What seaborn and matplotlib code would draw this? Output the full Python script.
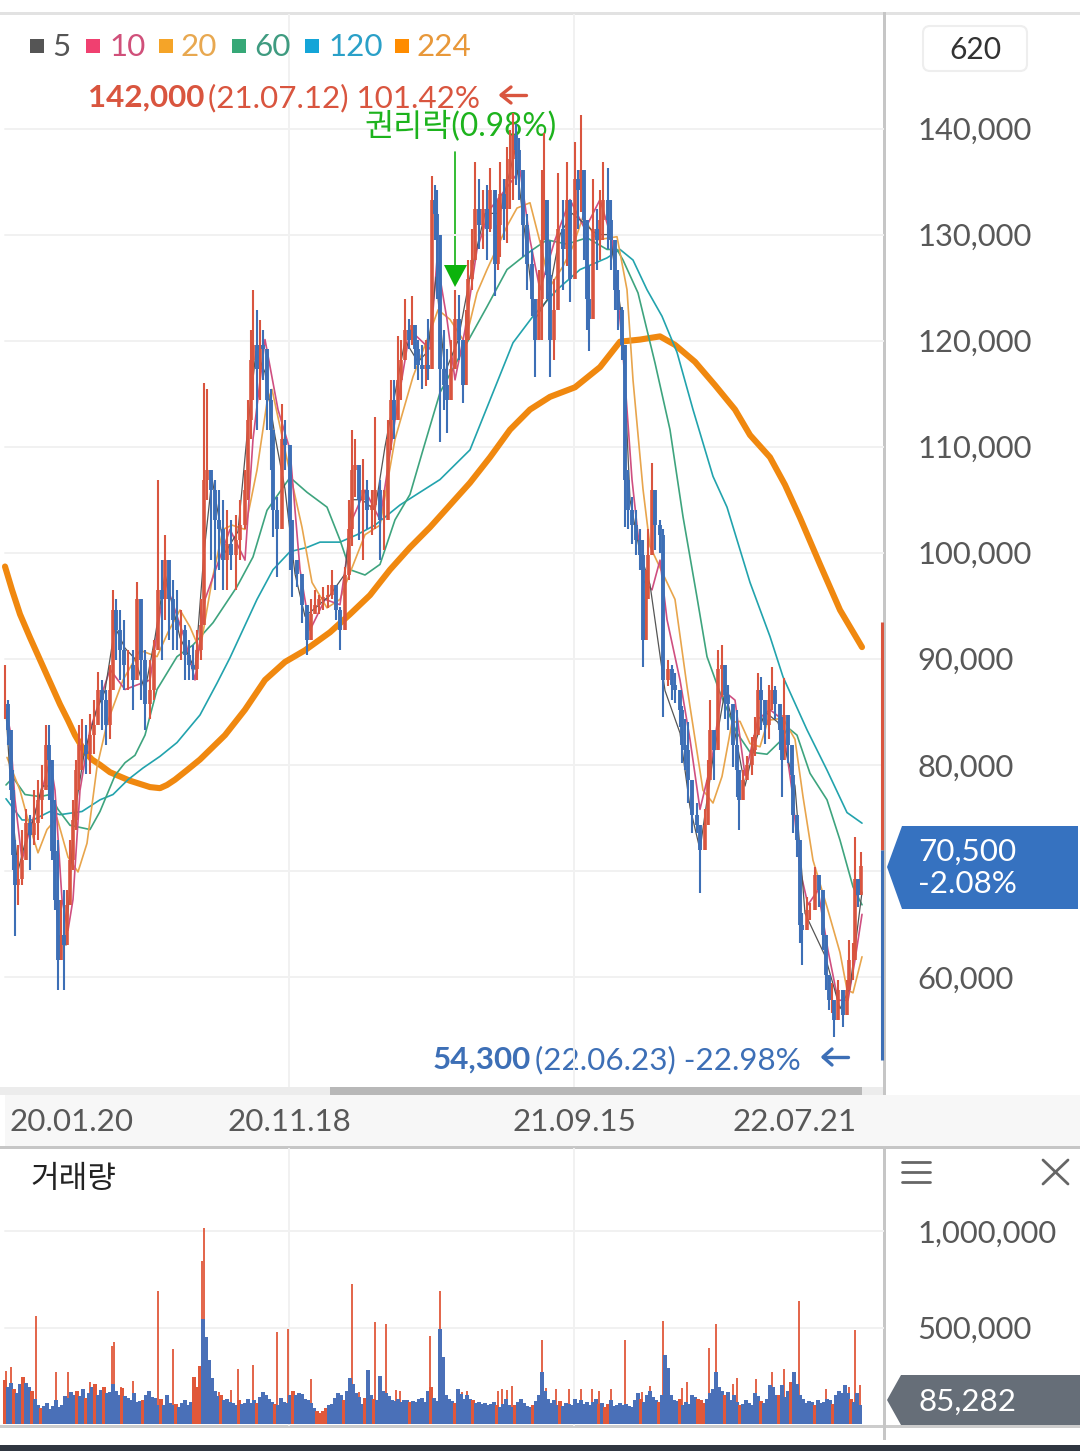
import numpy as np
import pandas as pd
import seaborn as sns
import matplotlib.pyplot as plt
from matplotlib.patches import Polygon, Rectangle, FancyBboxPatch

sns.set_theme(style='white')
plt.rcParams['font.family'] = ['Lato', 'Noto Sans CJK KR', 'DejaVu Sans']

# time axis position of each candle / thousand won
candle_t = [5,8,11,13,15,18,22,26,30,34,38,42,46,49,52,55,58,61,64,67,70,73,76,79,82,86,90,94,98,102,106,110,113,116,120,124,128,133,137,141,145,150,154,158,162,165,169,173,177,181,185,189,193,197,201,204,207,211,215,219,223,227,231,236,240,245,248,251,253,257,260,263,267,271,273,277,282,285,290,292,297,302,307,311,315,319,323,328,332,336,340,345,349,352,355,359,363,367,372,375,380,384,388,391,394,398,401,405,409,412,415,418,422,426,428,432,435,437,440,444,447,451,455,459,463,466,468,472,475,479,483,487,490,495,498,500,504,507,510,513,516,519,523,527,532,535,539,542,544,547,550,554,558,563,567,570,575,578,581,584,587,589,593,597,600,603,608,611,615,618,622,625,628,632,636,640,643,646,648,652,655,660,663,668,672,675,680,682,685,688,692,697,700,705,708,710,714,718,722,725,728,733,737,739,743,747,752,755,758,761,765,769,772,775,780,782,784,788,792,793,797,800,802,807,810,815,819,823,826,829,832,834,838,843,847,849,853,855,858,861]
candle_high = [89.4,86.1,83.3,79.5,72.9,72.4,73.9,75.8,75.3,77.6,78.6,80,83.8,83.8,80.5,76.7,72.9,67.3,68.2,68.2,72.9,76.7,80.5,83.8,84.3,83.8,84.8,86.1,88.8,88,87.1,89.4,96.5,95.6,94.6,93.7,90.8,90.8,97.2,95.6,90.8,89.9,91.8,106.9,99.3,101.7,98.9,97.4,96.5,94.6,93.2,91.8,91.3,92.7,95.6,116,115.4,107.8,106.9,105.9,105,104,103.1,103.6,105,107.8,114.4,121,124.8,122.9,121.9,121,118.2,115.4,110,105.3,114,112.5,105.3,103.1,99.3,97.4,93.7,95.6,96.5,96,96.8,97,98.4,96.5,94.9,98.7,105,111.6,110.7,107.8,108.8,106.9,105.9,112.8,106.9,105.9,112.5,116.3,116.3,120.4,120.1,123.9,122,124.2,121.5,120.1,119.6,120.1,122,135.5,134.7,134.2,128.3,121,119.2,120.1,124.8,124.3,119.2,122.9,127.6,130.5,136.8,135.2,134.2,134.7,136.3,130.7,133.3,136.8,135.2,138.3,139.9,141.5,140.4,139.1,134.9,131.9,128.6,123.9,126.7,136.1,139.6,131.9,129.4,125.8,135.8,133.3,136.8,131.4,138.7,136.1,141.3,134.2,129.2,127,135.2,132.4,134.2,136.8,136.3,133.3,129.2,126.7,123.2,119.4,107.8,105.3,104,102.2,101.2,98.4,102.2,108.5,104.3,103.1,102.2,89.9,89.4,88.7,86.8,85.5,84.3,84,78.6,76.4,73.9,75.8,80.5,86.1,82.6,90.8,91.3,88.7,87.5,85.2,85.2,79.5,79.5,80.8,82.6,84.5,88.7,88.3,85.2,87.5,89.2,87.4,84.5,84.5,88.2,84,80.8,78.3,75.1,70.1,66,67.5,67,70.4,69.2,65.1,62.3,59.4,59.4,56.9,59.7,58.1,59.7,63.5,63.2,73.2,69.2,71.8]
candle_low = [84.3,81.9,76.7,70.1,63.9,66.8,68.7,71,70.1,72.4,72.9,74.9,77.6,76.7,71,66.3,58.8,62.5,58.8,63,66.8,70.1,73.9,77.6,79.5,79.1,79.1,81,84.3,83.3,81.9,82.4,87.1,89.9,88,87.1,87.1,85.2,89.9,86.1,83.3,84.3,86.1,91.8,89.9,93.7,91.8,90.8,90.8,89.9,88,88,88,88,89.9,99.3,105,99.3,96.5,98.4,96.5,96.5,98.4,96.5,99.3,102.2,105,110.7,114.4,111.6,114.4,116.3,111.6,107.8,101.5,97.7,106.9,107.8,98.4,95.8,96.8,93.4,90.4,91.8,94.4,94.2,94.6,94.8,95.6,93.7,90.8,94.4,97.4,100.6,105.3,101.2,99.3,102.2,101.7,102.2,99.3,100.3,104.1,109.7,110.7,114.4,114.4,118.2,119.2,119.6,117.3,116.3,115.4,115.7,116.3,117.3,129.5,123.9,110.4,113.5,111.3,114.4,117.5,118.2,114.1,115.8,122.3,124.8,127.6,128.6,128.6,127.6,130.2,124.2,126.7,127.9,129.5,129.2,132.4,133.3,134.7,133.3,127.9,124.8,122.3,116.6,120.1,120.1,131.7,123.9,116.6,118.2,123.2,124.8,127,123.6,131.7,130.5,132.1,127.6,121,119,125.5,126.7,127.6,129.5,128.6,126.7,122.9,121,118.2,102.4,102.2,100.8,99.8,98.4,89.2,91.8,97.2,102.2,100.3,100,84.5,87.4,86.1,85.8,83.6,80.2,79.5,76.4,73.6,73.6,67.9,72.3,74.8,80.2,78.6,84.5,86.4,84.3,83.3,79.8,77,73.9,77.6,78.9,79,80.8,83.3,83.3,82,82.4,85.2,84.3,81.4,77,82.7,80.2,77.9,73.6,71.3,63.2,61.1,64.7,65.4,67.9,66.6,62.5,58.8,56.9,56.6,54.3,57.2,55.3,56.9,59.1,59.7,65.6,66.6,69.2]
candle_close = [85.7,83.3,77.6,71.5,68.7,69.2,71,74.5,73.4,74.5,76.7,77.6,81.9,80.5,71.9,67.3,61.6,64,63,66.8,71,74.8,79.5,81.9,81.9,81,82.8,83.8,87.1,86.1,83.8,87.1,94.6,92.7,90.8,89.4,89.4,88,95.6,89.9,85.7,87.1,90.8,96.5,95.6,99.3,95.6,93.7,92.7,92.7,90.4,89.4,89,90.8,93.2,106.9,107.8,105.9,103.1,102.2,99.3,100.8,99.8,101.2,102.6,105.9,112.5,118.2,119.6,117.3,119.6,119.2,114.4,111.6,104,102.2,110.7,110.2,103.1,99.3,98,95.1,91.8,94.2,95.1,95.6,95.8,96,97,94.6,92.7,97.9,102.2,107.8,108.3,105,105.9,104,104.5,105.9,103.1,103.1,110.7,114.4,112.5,116.3,118.2,121,120.1,121.5,119.2,117.7,117.3,117.7,117.3,133.3,131.9,130,117.3,115.8,114.4,117.3,122,120.1,115.8,120.1,125.8,127.6,132.4,130.9,132.4,130.5,134.2,127.2,130.9,133.8,132.4,135.2,137.1,139.4,138,136.1,130.9,127.2,123.9,120.1,123.9,129.5,133.3,126.2,120.1,122.9,130.5,128.6,133.3,125.8,135.2,134.2,136.1,131.4,123.9,122,130.5,129.5,131.4,133.3,131.4,129.5,124.8,122.9,119.6,106.9,104,102.6,101.2,99.8,91.8,95.6,99.8,105.9,102.6,101.7,88,89,87.5,87.1,85.2,81.9,81.4,78.6,75.3,74.3,72,74.3,78.6,83.3,81.4,89,89.4,86.6,85.7,81.9,79.5,76.7,78.6,80,81.4,82.8,87.1,86.1,83.8,86.1,87.1,85.7,83.3,80.5,84.7,81.9,79,75.3,72.9,64.9,64.4,66.3,66.3,69.6,68.2,64,60.2,57.8,57.8,55.9,58.8,56.4,58.8,61.6,61.6,69.2,67.7,70.5]

ma5_t = [6,12,18,26,34,42,50,58,66,74,84,96,105,115,125,135,145,155,165,180,195,204,212,225,238,248,256,265,275,285,295,305,318,330,345,352,362,375,385,395,405,418,428,436,445,458,470,485,500,515,525,535,548,560,572,585,597,610,622,630,640,650,665,680,690,700,712,725,735,745,755,765,778,795,805,825,840,850,862]
ma5 = [85,76,70,73,75,78,78,64,63,75,81,85,87,93,91,90,87,92,98,92,89,100,107,100,102,112,119,117,111,106,98,94,95,96,98,105,105,104,110,115,120,118,119,126,117,120,126,132,132,138,130,122,124,130,132,131,130,130,122,105,100,97,87,83,76,72,80,87,83,78,82,85,84,78,66,62,57,59,68]
ma10_t = [6,10,15,22,30,42,50,55,62,68,73,80,90,110,125,150,165,185,195,205,230,245,253,265,278,290,300,310,325,340,352,365,380,395,410,430,437,447,455,465,477,490,505,520,530,540,555,570,585,600,612,622,632,643,652,660,667,680,690,700,712,722,735,745,758,770,782,792,800,808,818,828,838,848,855,862]
ma10 = [85.2,83.3,76.7,71,74,77.6,80.5,77.6,67.3,64.4,67.3,77.6,83.3,89,87.1,88,97.4,91.8,88,95.6,102.2,99.3,110.7,120.1,113.5,109.7,98.4,92.7,95.6,95.1,103.1,105.9,103.1,112.5,121,119.2,127.6,122,116.3,121,128.6,132.4,134.2,136.1,129.5,124.8,129.5,133.3,130.5,133.3,129.5,120.1,106.9,97.4,96.5,99.3,93.7,88,82.4,75.8,80.5,87.1,86.1,79,84.3,85.2,84.3,77.6,70.1,66.8,68.2,62.5,57.8,57.8,61.6,65.9]
ma20_t = [7,20,30,38,47,57,68,78,87,97,107,123,140,157,168,180,190,200,212,223,232,245,257,267,272,290,302,312,327,340,350,365,380,395,413,430,438,450,465,477,487,507,517,530,540,550,563,573,583,597,617,627,633,643,650,667,675,687,690,703,713,722,732,740,750,760,768,783,795,803,813,827,840,847,853,862]
ma20 = [80.7,77.6,74.1,71.7,73.9,75,71.3,69.9,72.6,79.8,83.9,88,90.8,90.2,92.5,94.6,93,90.8,97.4,102.2,102.6,102.2,107.8,114.2,115.4,107.5,102.4,97.2,94.8,95.6,98.1,101.7,102.6,110.7,116.6,120.8,122.9,122,119.8,124.5,126.7,130.8,132.5,133,129.3,125.1,127,128.9,131.7,129.5,129.8,124.8,116.3,106,100.6,97.2,95.6,87.4,85.5,77.6,76.4,78.9,84,84.1,82,81.7,84.2,84.4,82.4,77,71,66.6,62.3,58.8,58.5,61.9]
ma60_t = [6,13,25,40,50,58,70,90,100,115,125,135,145,157,177,193,213,237,253,267,290,307,327,340,350,365,380,395,410,423,440,467,487,507,523,533,547,567,587,607,617,623,638,655,670,683,697,707,720,737,750,767,780,788,797,810,827,840,853,862]
ma60 = [78.1,78.8,77.2,77,77.2,75.8,74.3,73.9,75.6,79,80.2,80.9,82.8,87.1,90.2,91.3,93.4,96.8,99.6,104,107.1,105.7,104.3,101.2,98.4,97.9,98.9,103.1,105.5,109.7,115.1,119.8,123.2,126.7,127.9,128.6,129.5,129.1,129.7,128.6,128.6,127.6,124.5,117.9,111.6,103.4,95.8,90.2,86.8,83,81.2,81,82.2,83.5,82.8,79.2,76.7,72.9,68.5,66.8]
ma120_t = [6,22,33,50,60,82,100,113,128,143,160,177,200,217,230,257,273,290,307,320,340,357,375,400,440,470,490,513,533,557,580,607,620,633,647,662,677,693,713,727,750,770,783,807,827,847,862]
ma120 = [76.8,74.8,74.8,75.6,75.3,75.6,76.7,77.2,78.6,79.7,80.8,82.1,84.7,87.7,90.1,95.6,98.4,100.1,100.5,101,101,101.7,102.6,104.5,106.9,109.7,114.4,119.8,122.3,124.8,126.7,127.8,128.6,127.6,124.8,122.3,118.9,113.5,107.2,104.3,97.2,92.1,88.3,83.3,79.5,75.5,74.5]
ma224_t = [5,12,20,30,40,50,60,68,75,85,92,100,110,120,130,140,150,160,167,175,187,200,225,245,265,285,305,330,350,370,390,410,430,450,470,490,510,530,550,575,600,620,640,660,675,695,715,735,750,770,785,800,820,840,862]
ma224 = [98.7,96.5,94.2,92,89.9,87.8,85.7,84.2,82.8,81.2,80.5,80,79.3,78.9,78.5,78.2,77.9,77.8,78.1,78.6,79.5,80.5,82.8,85.2,88,89.7,90.8,92.5,94.2,96,98.4,100.5,102.4,104.5,106.6,109,111.6,113.5,114.7,115.6,117.5,119.9,120.1,120.4,119.6,118,115.8,113.5,111.1,109,106.4,103.3,98.9,94.6,91.1]

# thousand shares, one value every 3 positions starting at 5
vol_base = [230,190,215,180,160,205,245,215,190,170,
            130,100,85,95,110,80,95,125,90,100,
            145,135,165,150,170,145,180,135,160,190,
            210,150,175,190,160,165,210,170,150,185,
            145,135,125,160,115,120,125,150,170,140,
            135,100,130,100,150,110,100,105,90,110,
            125,100,115,245,190,300,545,450,330,240,
            170,145,150,125,130,115,110,100,125,105,
            110,130,110,125,110,140,165,150,130,115,
            105,100,135,115,110,150,170,150,160,155,
            130,125,110,85,70,55,70,85,100,105,
            135,160,150,125,170,240,210,160,140,105,
            135,280,150,130,125,250,170,160,145,125,
            120,130,115,125,125,115,120,115,130,135,
            115,170,190,135,120,490,350,150,130,120,
            110,180,155,130,150,130,125,110,115,105,
            110,100,105,115,100,90,105,130,100,90,
            100,115,130,110,95,90,100,120,150,270,
            170,130,110,125,100,120,95,110,105,100,
            130,110,125,105,115,100,115,130,105,110,
            90,105,125,95,100,110,100,105,95,90,
            125,160,130,115,150,170,140,125,115,150,
            360,290,150,125,120,130,100,115,105,150,
            140,130,125,110,130,160,180,270,190,170,
            150,165,125,150,115,100,105,125,110,100,
            160,145,120,110,130,200,190,150,150,200,
            140,170,220,270,210,150,130,110,120,115,
            100,125,110,115,130,125,105,150,170,160,
            200,160,130,115,160,100]
# positions in vol_base that closed up
vol_up_index = [0,3,6,9,12,24,27,30,33,39,46,52,57,63,64,65,72,78,84,90,96,104,105,106,107,113,120,123,135,142,150,156,164,170,176,185,198,200,201,212,218,225,231,232,233,240,245,252,258,262,270,276,282]
spike_t = [6,11,36,56,68,90,112,114,121,133,158,173,202,204,219,231,238,253,277,288,311,352,359,367,375,386,396,400,430,440,462,467,498,502,507,512,542,546,556,569,581,592,599,611,625,642,650,663,682,687,709,716,733,737,756,772,784,795,799,826,849,855,860]
spike_vol = [275,295,560,270,270,218,405,425,190,222,690,390,845,1015,166,175,285,305,475,495,235,725,166,170,528,518,176,170,455,690,166,170,170,180,175,197,435,186,183,183,183,181,170,180,435,166,197,533,186,218,394,518,207,238,233,269,285,218,637,183,190,487,200]

price_ticks = [60, 70, 80, 90, 100, 110, 120, 130, 140]
price_labels = ['60,000', '', '80,000', '90,000', '100,000', '110,000', '120,000', '130,000', '140,000']
date_t = [72, 289, 574, 795]
date_labels = ['20.01.20', '20.11.18', '21.09.15', '22.07.21']
grid_t = [289, 574]
vol_ticks = [500, 1000]
vol_labels = ['500,000', '1,000,000']

W, H = 1080, 1451
RED = '#d9553f'
BLUE = '#3d6fb6'
TICK = '#585858'
fs = 22.6
tick_fs = 22.2


def box(l, t, r, b):
    return [l / W, 1 - b / H, (r - l) / W, (b - t) / H]


fig = plt.figure(figsize=(W / 100, H / 100), dpi=100, facecolor='white')

# page furniture sits under the chart panes
ui = fig.add_axes([0, 0, 1, 1], zorder=0)
ui.set_xlim(0, W)
ui.set_ylim(H, 0)
ui.axis('off')
ui.add_patch(Rectangle((0, 12), W, 2.5, color='#e2e2e2', lw=0))
ui.add_patch(Rectangle((0, 1087), 884, 8, color='#ececec', lw=0))
ui.add_patch(Rectangle((330, 1087), 532, 8, color='#b8b8b8', lw=0))
ui.add_patch(Rectangle((5, 1095), W, 51, color='#f7f7f7', lw=0))
ui.add_patch(Rectangle((0, 1146), W, 2.5, color='#c6c6c6', lw=0))
ui.add_patch(Rectangle((0, 1425), W, 2.5, color='#cccccc', lw=0))
ui.add_patch(Rectangle((0, 1445), W, 6, color='#2f3640', lw=0))
ui.add_patch(Rectangle((883, 12), 2.5, 1083, color='#c6c6c6', lw=0))
ui.add_patch(Rectangle((883, 1148), 2.5, 292, color='#c6c6c6', lw=0))
ui.add_patch(FancyBboxPatch((927, 30), 96, 37, boxstyle='round,pad=4,rounding_size=7', fc='white', ec='#eeeeee', lw=1.5))
ui.text(975, 50, '620', ha='center', va='center', fontsize=fs - 1, color='#333333')

ui.plot([501, 526], [95, 95], color=RED, lw=2.4)
ui.plot([511, 501, 511], [87, 95, 103], color=RED, lw=2.4)
ui.text(433, 1060, '54,300', va='center', fontsize=fs, color=BLUE, fontweight='bold')
ui.text(535, 1060, '(22.06.23) -22.98%', va='center', fontsize=fs, color=BLUE)
ui.plot([823, 848], [1057, 1057], color=BLUE, lw=2.4)
ui.plot([832, 823, 832], [1049, 1057, 1065], color=BLUE, lw=2.4)

ui.plot([455, 455], [152, 266], color='#12b012', lw=1.2)
ui.add_patch(Polygon([(444, 265), (467, 265), (455, 287)], color='#0cb30c', lw=0))

ui.add_patch(Polygon([(887, 867), (902, 826), (1078, 826), (1078, 909), (902, 909)], color='#3672c0', lw=0))
ui.text(918, 852, '70,500', va='center', fontsize=fs, color='white')
ui.text(918, 884, '-2.08%', va='center', fontsize=fs, color='white')
ui.add_patch(Polygon([(887, 1400), (901, 1375), (W, 1375), (W, 1425), (901, 1425)], color='#666e78', lw=0))
ui.text(919, 1402, '85,282', va='center', fontsize=fs, color='white')

ui.text(30, 1179, '거래량', va='center', fontsize=22.4, color='#222222')
for y in [1162, 1172, 1182]:
    ui.plot([902, 930], [y, y], color='#666666', lw=2)
ui.plot([1043, 1068], [1160, 1184], color='#666666', lw=2)
ui.plot([1043, 1068], [1184, 1160], color='#666666', lw=2)

# price pane
ax = fig.add_axes(box(0, 14, 884, 1087), zorder=1)
ax.patch.set_alpha(0)
ax.set_xlim(0, 884)
ax.set_ylim(49.62, 150.8)
for sp in ax.spines.values():
    sp.set_visible(False)
for p in price_ticks:
    ax.axhline(p, xmin=5 / 884, color='#f1f1f1', lw=1.4, zorder=0)
for t in grid_t:
    ax.axvline(t, color='#f1f1f1', lw=1.4, zorder=0)

# these texts go over the grid and under the candles
legend = [('5', 30, 52, '#555555', '#555555'), ('10', 86, 109, '#f04070', '#d0507a'),
          ('20', 159, 181, '#f5a428', '#e8a850'), ('60', 232, 254, '#36a877', '#3f9b80'),
          ('120', 305, 328, '#14a5d8', '#2aa0c8'), ('224', 395, 417, '#ff8c00', '#e8983a')]
for name, sx, tx, sc, tc in legend:
    ui.add_patch(Rectangle((sx, 39), 14, 14, color=sc, lw=0))
    ax.text(tx, 47, name, va='center', fontsize=fs, color=tc, transform=ui.transData, zorder=1)
ax.text(88, 98, '142,000', va='center', fontsize=fs, color=RED, fontweight='bold', transform=ui.transData, zorder=1)
ax.text(208, 98, '(21.07.12) 101.42%', va='center', fontsize=fs, color=RED, transform=ui.transData, zorder=1)
ax.text(365, 126, '권리락(0.98%)', va='center', fontsize=22.8, color='#1db31d', transform=ui.transData, zorder=1)

ma_styles = [(ma224_t, ma224, '#f0880f', 4.4), (ma120_t, ma120, '#22a3ad', 1.2),
             (ma60_t, ma60, '#3ea47e', 1.2), (ma20_t, ma20, '#e8a54c', 1.2),
             (ma10_t, ma10, '#cf4f80', 1.2), (ma5_t, ma5, '#555555', 0.9)]
for t, v, c, lw in ma_styles:
    df = pd.DataFrame({'t': t, 'price': v})
    sns.lineplot(data=df, x='t', y='price', color=c, linewidth=lw, estimator=None, sort=False, ax=ax, zorder=2)

closes = np.array(candle_close)
opens = np.r_[closes[0], closes[:-1]]
cdf = pd.DataFrame({'t': candle_t, 'high': candle_high, 'low': candle_low, 'open': opens, 'close': closes})
up = cdf[cdf['close'] >= cdf['open']]
down = cdf[cdf['close'] < cdf['open']]
ax.vlines(up['t'], up['low'], up['high'], colors=RED, lw=1.5, zorder=3)
ax.vlines(up['t'], up['open'], up['close'], colors=RED, lw=2.6, zorder=3)
ax.vlines(down['t'], down['low'], down['high'], colors=BLUE, lw=1.5, zorder=3.1)
ax.vlines(down['t'], down['open'], down['close'], colors=BLUE, lw=2.8, zorder=3.1)

ax.vlines(882, 72, 93.5, colors=RED, lw=2.2, zorder=4, clip_on=False)
ax.vlines(882, 52.2, 72, colors=BLUE, lw=2.2, zorder=4, clip_on=False)

ax.set_xlabel('')
ax.set_ylabel('')
ax.yaxis.tick_right()
ax.set_yticks(price_ticks, price_labels)
ax.set_xticks(date_t, date_labels)
ax.tick_params(axis='y', length=0, pad=23.8, labelsize=tick_fs, labelcolor=TICK)
ax.tick_params(axis='x', length=0, pad=15, labelsize=fs, labelcolor=TICK)

# volume pane
vax = fig.add_axes(box(0, 1148, 884, 1426), zorder=1)
vax.patch.set_alpha(0)
vax.set_xlim(0, 884)
vax.set_ylim(-10, 1430)
for sp in vax.spines.values():
    sp.set_visible(False)
for v in vol_ticks:
    vax.axhline(v, xmin=5 / 884, color='#f1f1f1', lw=1.4, zorder=0)
for t in grid_t:
    vax.axvline(t, color='#f1f1f1', lw=1.4, zorder=0)

vol_df = pd.DataFrame({'t': 5 + 3 * np.arange(len(vol_base)), 'vol': vol_base})
vol_df['up'] = vol_df.index.isin(vol_up_index)
vax.vlines(spike_t, 0, spike_vol, colors='#e0583a', lw=1.3, zorder=2)
vax.bar(vol_df['t'], vol_df['vol'], width=3.2, lw=0, zorder=3,
        color=['#e0583a' if u else '#4a70b8' for u in vol_df['up']])
vax.yaxis.tick_right()
vax.set_yticks(vol_ticks, vol_labels)
vax.set_xticks([])
vax.tick_params(axis='y', length=0, pad=23.8, labelsize=tick_fs, labelcolor=TICK)

fig.savefig('out.png', dpi=100)
